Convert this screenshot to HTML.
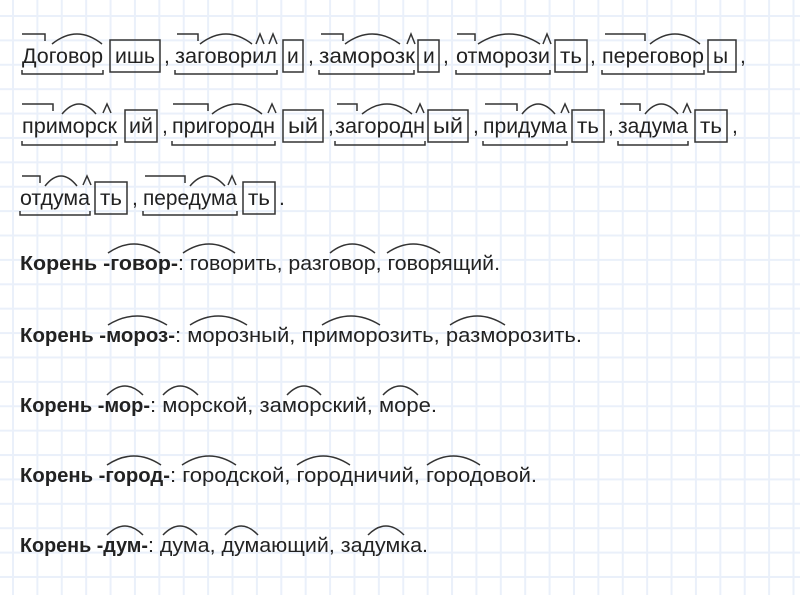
<!DOCTYPE html>
<html><head><meta charset="utf-8"><style>
html,body{margin:0;padding:0}
body{width:800px;height:595px;overflow:hidden;background-color:#fff;
background-image:linear-gradient(to right,#eaf0fa 2px,transparent 2px),linear-gradient(to bottom,#eaf0fa 2px,transparent 2px);
background-size:24.4px 24.4px;background-position:12px 15px;}
svg{position:absolute;left:0;top:0}
text{font-family:"Liberation Sans",sans-serif;fill:#222;font-size:21px}
.b{font-weight:bold;font-size:20px}
.k{font-size:20px}
path,rect{fill:none;stroke:#333;stroke-width:1.5}
</style></head><body>
<svg width="800" height="595" viewBox="0 0 800 595">
<!-- Row 1 baseline 63 -->
<text x="22" y="63" textLength="81" lengthAdjust="spacingAndGlyphs">Договор</text>
<rect x="110" y="40" width="50" height="32"/><text x="115" y="63" textLength="40" lengthAdjust="spacingAndGlyphs">ишь</text>
<text x="164" y="63">,</text>
<text x="175" y="63" textLength="102" lengthAdjust="spacingAndGlyphs">заговорил</text>
<rect x="283" y="40" width="20" height="32"/><text x="287" y="63">и</text>
<text x="308" y="63">,</text>
<text x="319" y="63" textLength="96" lengthAdjust="spacingAndGlyphs">заморозк</text>
<rect x="418" y="40" width="21" height="32"/><text x="423" y="63">и</text>
<text x="443" y="63">,</text>
<text x="456" y="63" textLength="94" lengthAdjust="spacingAndGlyphs">отморози</text>
<rect x="555" y="40" width="32" height="32"/><text x="560" y="63" textLength="22" lengthAdjust="spacingAndGlyphs">ть</text>
<text x="590" y="63">,</text>
<text x="602" y="63" textLength="102" lengthAdjust="spacingAndGlyphs">переговор</text>
<rect x="708" y="40" width="28" height="32"/><text x="713" y="63">ы</text>
<text x="740" y="63">,</text>
<path d="M22,34 L45,34 L45,41 M52,44 Q77,24 102,44 M22,70 L22,74 L103,74 L103,70"/>
<path d="M177,34 L198,34 L198,41 M200,44 Q226,24 252,44 M256,44 L260,34 L264,44 M269,44 L273,34 L277,44 M175,70 L175,74 L277,74 L277,70"/>
<path d="M321,34 L343,34 L343,41 M345,44 Q372,24 400,44 M407,44 L411,34 L415,44 M319,70 L319,74 L414,74 L414,70"/>
<path d="M457,34 L475,34 L475,41 M478,44 Q509,24 540,44 M543,44 L547,34 L551,44 M456,70 L456,74 L550,74 L550,70"/>
<path d="M605,34 L645,34 L645,41 M650,44 Q675,24 700,44 M602,70 L602,74 L704,74 L704,70"/>

<!-- Row 2 baseline 133 -->
<text x="22" y="133" textLength="95" lengthAdjust="spacingAndGlyphs">приморск</text>
<rect x="125" y="110" width="32" height="32"/><text x="129" y="133" textLength="24" lengthAdjust="spacingAndGlyphs">ий</text>
<text x="162" y="133">,</text>
<text x="172" y="133" textLength="103" lengthAdjust="spacingAndGlyphs">пригородн</text>
<rect x="283" y="110" width="40" height="32"/><text x="288" y="133" textLength="30" lengthAdjust="spacingAndGlyphs">ый</text>
<text x="328" y="133">,</text>
<text x="335" y="133" textLength="90" lengthAdjust="spacingAndGlyphs">загородн</text>
<rect x="428" y="110" width="40" height="32"/><text x="433" y="133" textLength="30" lengthAdjust="spacingAndGlyphs">ый</text>
<text x="473" y="133">,</text>
<text x="483" y="133" textLength="84" lengthAdjust="spacingAndGlyphs">придума</text>
<rect x="572" y="110" width="32" height="32"/><text x="577" y="133" textLength="22" lengthAdjust="spacingAndGlyphs">ть</text>
<text x="608" y="133">,</text>
<text x="618" y="133" textLength="70" lengthAdjust="spacingAndGlyphs">задума</text>
<rect x="695" y="110" width="32" height="32"/><text x="700" y="133" textLength="22" lengthAdjust="spacingAndGlyphs">ть</text>
<text x="732" y="133">,</text>
<path d="M22,104 L53,104 L53,111 M62,114 Q79,94 96,114 M103,113 L107,104 L111,113 M22,141 L22,145 L117,145 L117,141"/>
<path d="M173,104 L208,104 L208,111 M212,114 Q237,94 262,114 M268,113 L272,104 L276,113 M172,141 L172,145 L275,145 L275,141"/>
<path d="M337,104 L357,104 L357,111 M362,114 Q387,94 412,114 M416,113 L420,104 L424,113 M335,141 L335,145 L425,145 L425,141"/>
<path d="M485,104 L517,104 L517,111 M522,114 Q538,94 555,114 M561,113 L565,104 L569,113 M483,141 L483,145 L567,145 L567,141"/>
<path d="M620,104 L640,104 L640,111 M645,114 Q661,94 678,114 M683,113 L687,104 L691,113 M618,141 L618,145 L688,145 L688,141"/>

<!-- Row 3 baseline 205 -->
<text x="20" y="205" textLength="70" lengthAdjust="spacingAndGlyphs">отдума</text>
<rect x="95" y="182" width="32" height="32"/><text x="100" y="205" textLength="22" lengthAdjust="spacingAndGlyphs">ть</text>
<text x="132" y="205">,</text>
<text x="143" y="205" textLength="94" lengthAdjust="spacingAndGlyphs">передума</text>
<rect x="243" y="182" width="32" height="32"/><text x="248" y="205" textLength="22" lengthAdjust="spacingAndGlyphs">ть</text>
<text x="279" y="205">.</text>
<path d="M22,176 L40,176 L40,183 M45,186 Q61,166 77,186 M83,185 L87,176 L91,185 M20,211 L20,215 L90,215 L90,211"/>
<path d="M145,176 L185,176 L185,183 M190,186 Q207,166 225,186 M228,185 L232,176 L236,185 M143,211 L143,215 L237,215 L237,211"/>

<!-- Корень rows -->
<text class="b" x="20" y="270" textLength="158" lengthAdjust="spacingAndGlyphs">Корень -говор-</text>
<text class="k" x="178" y="270" textLength="322" lengthAdjust="spacingAndGlyphs">: говорить, разговор, говорящий.</text>
<path d="M108,253 Q134,235 160,253 M183,253 Q209,235 235,253 M330,253 Q352,235 375,253 M387,253 Q413,235 440,253"/>

<text class="b" x="20" y="342" textLength="155" lengthAdjust="spacingAndGlyphs">Корень -мороз-</text>
<text class="k" x="175" y="342" textLength="407" lengthAdjust="spacingAndGlyphs">: морозный, приморозить, разморозить.</text>
<path d="M108,325 Q137,307 167,325 M190,325 Q218,307 247,325 M322,325 Q351,307 380,325 M450,325 Q477,307 505,325"/>

<text class="b" x="20" y="412" textLength="130" lengthAdjust="spacingAndGlyphs">Корень -мор-</text>
<text class="k" x="150" y="412" textLength="287" lengthAdjust="spacingAndGlyphs">: морской, заморский, море.</text>
<path d="M107,395 Q125,377 143,395 M163,395 Q180,377 198,395 M287,395 Q304,377 321,395 M383,395 Q400,377 418,395"/>

<text class="b" x="20" y="482" textLength="150" lengthAdjust="spacingAndGlyphs">Корень -город-</text>
<text class="k" x="170" y="482" textLength="367" lengthAdjust="spacingAndGlyphs">: городской, городничий, городовой.</text>
<path d="M107,465 Q134,447 161,465 M182,465 Q209,447 236,465 M297,465 Q323,447 350,465 M427,465 Q453,447 480,465"/>

<text class="b" x="20" y="552" textLength="128" lengthAdjust="spacingAndGlyphs">Корень -дум-</text>
<text class="k" x="148" y="552" textLength="280" lengthAdjust="spacingAndGlyphs">: дума, думающий, задумка.</text>
<path d="M107,535 Q125,517 143,535 M163,535 Q180,517 197,535 M225,535 Q241,517 258,535 M368,535 Q386,517 404,535"/>
</svg>
</body></html>
